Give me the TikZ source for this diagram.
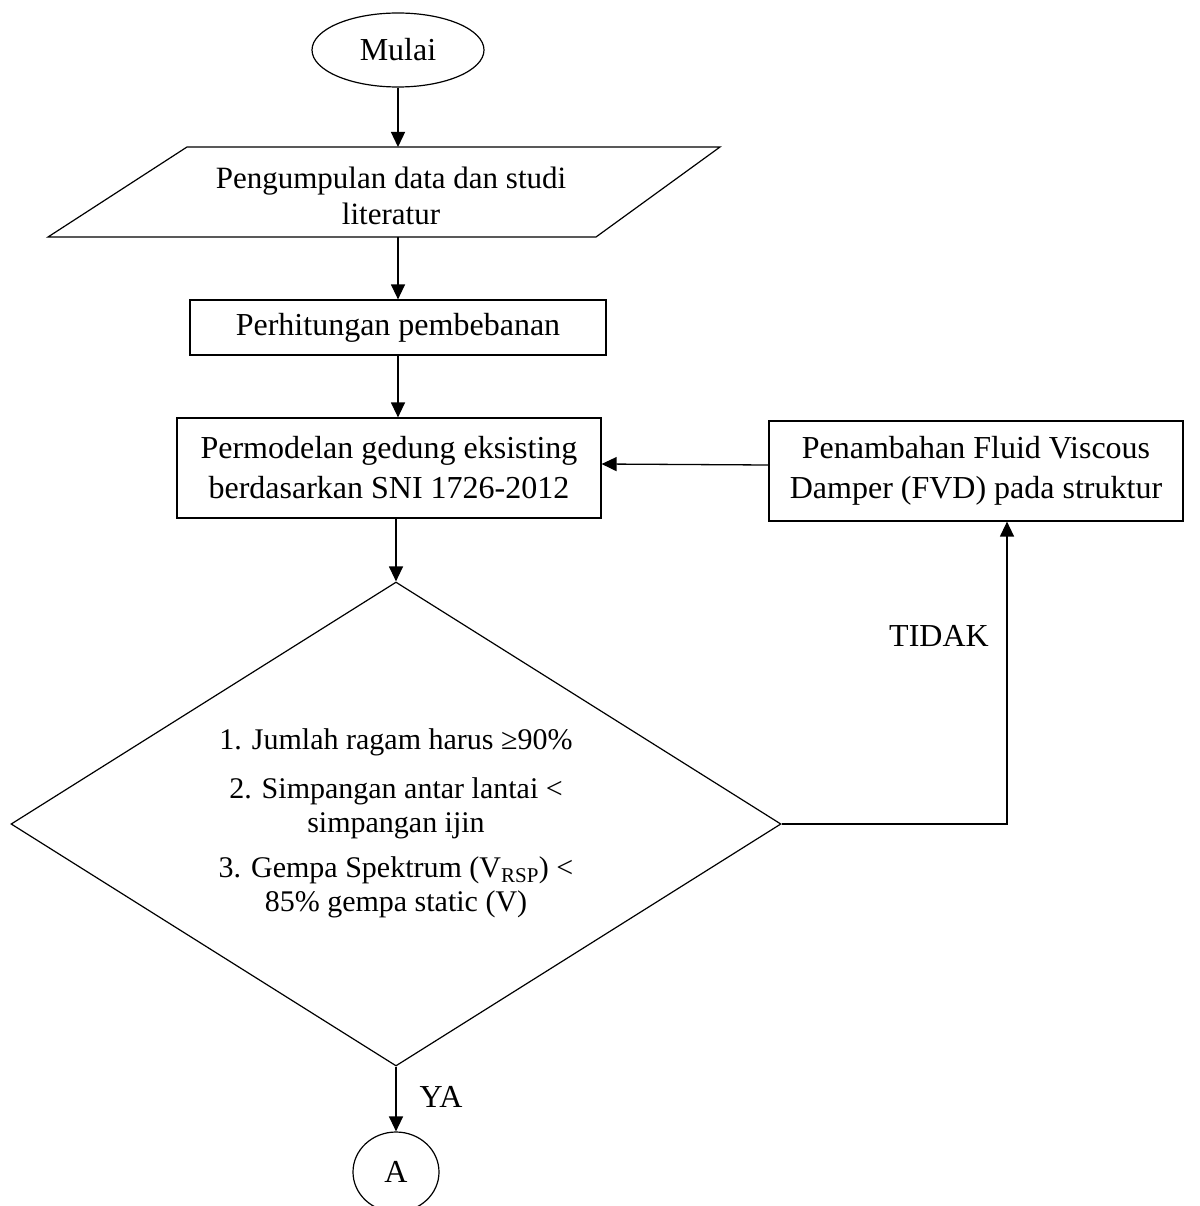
\documentclass[tikz,border=0pt]{standalone}
\usepackage{fontspec}
\setmainfont{Liberation Serif}
\usetikzlibrary{shapes.geometric,arrows.meta}
\begin{document}
\begin{tikzpicture}[x=1pt,y=-1pt,line width=1.2pt,
  arr/.style={-{Triangle[length=15pt,width=14pt]},line width=1.3pt},
  mainfont/.style={font=\fontsize{32}{40}\selectfont},
  box/.style={draw,rectangle,inner sep=0pt,align=center,mainfont},
  lbl/.style={inner sep=0pt,mainfont}]
\useasboundingbox (0,0) rectangle (1199,1206);
\fill[white] (0,0) rectangle (1199,1206);

\node[draw,ellipse,minimum width=172pt,minimum height=74pt,inner sep=0pt,mainfont] (mulai) at (398,50) {Mulai};

\draw (187,147) -- (720,147) -- (596,237) -- (48,237) -- cycle;
\coordinate (pgtop) at (398,147);
\coordinate (pgbot) at (398,237);
\node[align=center,inner sep=0pt,font=\fontsize{31}{36}\selectfont] (pg) at (391,196) {Pengumpulan data dan studi\\literatur};

\node[box,minimum width=416pt,minimum height=55pt] (hit) at (398,327.5) {Perhitungan pembebanan};
\node[box,minimum width=424pt,minimum height=100pt] (model) at (389,468) {Permodelan gedung eksisting\\berdasarkan SNI 1726-2012};
\node[box,minimum width=414pt,minimum height=100pt] (fvd) at (976,471) {Penambahan Fluid Viscous\\Damper (FVD) pada struktur};

\node[draw,diamond,minimum width=770pt,minimum height=484pt,inner sep=0pt] (dia) at (396,824) {};
\node[align=center,inner sep=0pt,font=\fontsize{30}{34}\selectfont] (cond) at (396,823)
  {1. Jumlah ragam harus ≥90\%\\[15pt]
   2. Simpangan antar lantai <\\simpangan ijin\\[11pt]
   3. Gempa Spektrum (V\textsubscript{RSP}) <\\85\% gempa static (V)};

\node[draw,ellipse,minimum width=86pt,minimum height=80pt,inner sep=0pt,mainfont] (a) at (396,1172) {A};

\node[lbl] (tidak) at (939,636) {TIDAK};
\node[lbl] (ya) at (441,1097) {YA};

\draw[arr] (mulai.south) -- (pgtop);
\draw[arr] (pgbot) -- (hit.north);
\draw[arr] (hit.south) -- (hit.south |- model.north);
\draw[arr] (model.south -| dia.north) -- (dia.north);
\draw[arr] (dia.east) -| ([xshift=31pt]fvd.south);
\draw[arr] ([yshift=6pt]fvd.west) -- ([yshift=4pt]model.east);
\draw[arr] (dia.south) -- (a.north);
\end{tikzpicture}
\end{document}
